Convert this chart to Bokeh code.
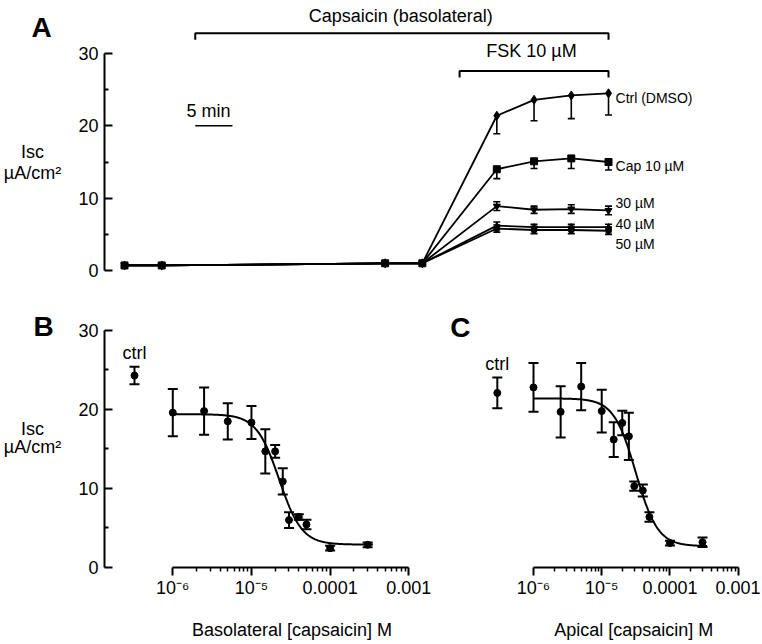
import numpy as np
from bokeh.plotting import figure
from bokeh.layouts import column, row
from bokeh.models import (ColumnDataSource, FixedTicker, Whisker, TeeHead, Range1d)
from bokeh.core.properties import value
from bokeh.embed import file_html
from bokeh.resources import INLINE

FONT = "Liberation Sans"

# ---------------- Panel A data (time course, minutes) ----------------
time_min = [0, 5, 35, 40, 50, 55, 60, 65]
ctrl_isc = [0.7, 0.7, 1.0, 1.0, 21.4, 23.6, 24.2, 24.5]
ctrl_err = [0, 0, 0, 0, 2.5, 2.9, 3.2, 3.0]
cap10_isc = [0.7, 0.7, 1.0, 1.0, 14.0, 15.1, 15.5, 15.0]
cap10_err = [0, 0, 0, 0, 1.3, 1.0, 1.4, 1.1]
cap30_isc = [0.7, 0.7, 1.0, 1.0, 8.9, 8.4, 8.5, 8.3]
cap30_err = [0, 0, 0, 0, 0.6, 0.5, 0.6, 0.6]
cap40_isc = [0.7, 0.7, 1.0, 1.0, 6.2, 6.0, 6.0, 6.0]
cap40_err = [0, 0, 0, 0, 0.5, 0.4, 0.4, 0.4]
cap50_isc = [0.7, 0.7, 1.0, 1.0, 5.8, 5.6, 5.6, 5.5]
cap50_err = [0, 0, 0, 0, 0.5, 0.5, 0.5, 0.5]
series_names = ["Ctrl (DMSO)", "Cap 10 µM", "30 µM", "40 µM", "50 µM"]
series_label_y = [23.9, 14.5, 9.3, 6.4, 3.6]
capsaicin_period = (9.5, 65)
fsk_period = (45, 65)
scale_bar_min = 5

# ---------------- Panel B data (basolateral) ----------------
b_conc = [1e-6, 2.5e-6, 5e-6, 1e-5, 1.5e-5, 2e-5, 2.5e-5, 3e-5, 4e-5, 5e-5, 1e-4, 3e-4]
b_isc = [19.6, 19.8, 18.5, 18.35, 14.7, 14.7, 10.9, 6.0, 6.4, 5.45, 2.45, 2.87]
b_err = [3.0, 3.0, 2.3, 2.1, 2.8, 0.8, 1.65, 1.0, 0.35, 0.6, 0.3, 0.3]
b_ctrl_pos = 3.26e-7
b_ctrl_isc = 24.3
b_ctrl_err = 1.1
b_fit = dict(top=19.4, bottom=2.9, ic50=2.25e-5, hill=3.0)

# ---------------- Panel C data (apical) ----------------
c_conc = [1e-6, 2.5e-6, 5e-6, 1e-5, 1.5e-5, 2e-5, 2.5e-5, 3e-5, 4e-5, 5e-5, 1e-4, 3e-4]
c_isc = [22.8, 19.7, 22.9, 19.8, 16.2, 18.3, 16.6, 10.3, 9.75, 6.4, 3.1, 3.2]
c_err = [3.1, 3.25, 3.0, 2.7, 2.2, 1.55, 3.0, 0.6, 0.75, 0.6, 0.3, 0.6]
c_ctrl_pos = 2.95e-7
c_ctrl_isc = 22.1
c_ctrl_err = 1.95
c_fit = dict(top=21.4, bottom=2.7, ic50=3.15e-5, hill=2.7)

fit_range = (1e-6, 3.5e-4)
x_ticks = [1e-6, 1e-5, 1e-4, 1e-3]
x_tick_labels = ["10⁻⁶", "10⁻⁵", "0.0001", "0.001"]
y_ticks = [0, 10, 20, 30]
y_minor = [5, 15, 25]
x_titles = ["Basolateral [capsaicin] M", "Apical [capsaicin] M"]


def hill(x, top, bottom, ic50, hill):
    return bottom + (top - bottom) / (1.0 + (x / ic50) ** hill)


def add_text(p, x, y, text, size="18px", bold=False, align="center"):
    p.text(x=[x], y=[y], text=[text], text_font=value(FONT), text_font_size=size,
           text_font_style="bold" if bold else "normal", text_align=align,
           text_baseline="middle", text_color="black")


def add_errors(p, xs, ys, errs, cap, width, up=True):
    xs2, lo, hi = [], [], []
    for x, y, e in zip(xs, ys, errs):
        if e > 0:
            xs2.append(x)
            lo.append(y - e)
            hi.append(y + e if up else y)
    src = ColumnDataSource(dict(base=xs2, lower=lo, upper=hi))
    p.add_layout(Whisker(source=src, base="base", lower="lower", upper="upper",
                         dimension="height", line_color="black", line_width=width,
                         lower_head=TeeHead(size=cap, line_width=width, line_color="black"),
                         upper_head=TeeHead(size=cap, line_width=width, line_color="black") if up else None))


def style_yaxis(ax):
    ax.bounds = (0, 30)
    ax.ticker = FixedTicker(ticks=y_ticks, minor_ticks=y_minor)
    ax.axis_line_width = 2
    ax.major_tick_line_width = 2
    ax.minor_tick_line_width = 2
    ax.major_tick_in = 8
    ax.major_tick_out = 0
    ax.minor_tick_in = 4
    ax.minor_tick_out = 0
    ax.major_label_standoff = 6
    ax.major_label_text_font = FONT
    ax.major_label_text_font_size = "18px"
    ax.major_label_text_color = "black"
    ax.axis_line_color = "black"
    ax.major_tick_line_color = "black"
    ax.minor_tick_line_color = "black"


def style_xaxis(ax):
    minor = [k * 10.0 ** e for e in (-6, -5, -4) for k in range(2, 10)]
    ax.bounds = (x_ticks[0], x_ticks[-1])
    ax.ticker = FixedTicker(ticks=x_ticks, minor_ticks=minor)
    ax.major_label_overrides = {t: s for t, s in zip(x_ticks, x_tick_labels)}
    ax.axis_line_width = 2
    ax.major_tick_line_width = 2
    ax.minor_tick_line_width = 1.5
    ax.major_tick_in = 0
    ax.major_tick_out = 8
    ax.minor_tick_in = 0
    ax.minor_tick_out = 4
    ax.major_label_standoff = 2
    ax.major_label_text_font = FONT
    ax.major_label_text_font_size = "18px"
    ax.major_label_text_color = "black"
    ax.axis_line_color = "black"
    ax.major_tick_line_color = "black"
    ax.minor_tick_line_color = "black"


def text_panel(width, y_top, height):
    f = figure(width=width, height=height, output_backend="svg", toolbar_location=None,
               x_range=Range1d(0, width), y_range=Range1d(y_top + height, y_top),
               x_axis_location=None, y_axis_location=None,
               min_border_left=0, min_border_right=0, min_border_top=0, min_border_bottom=0)
    f.grid.visible = False
    f.outline_line_color = None
    return f


LEFT_W = 66
ROW1_H = 298
ROW2_H = 314
ROW3_H = 28

# ======================= Row 1: Panel A =======================
lblA = text_panel(LEFT_W, 0, ROW1_H)
add_text(lblA, 41, 27, "A", size="28px", bold=True)
add_text(lblA, 32, 151, "Isc")
add_text(lblA, 32, 172.5, "µA/cm²")

pA = figure(width=760 - LEFT_W, height=ROW1_H, output_backend="svg", toolbar_location=None,
            x_range=Range1d(-2.686, 85.41), y_range=Range1d(-3.87, 37.33),
            x_axis_location=None, min_border_left=104 - LEFT_W, min_border_right=0,
            min_border_top=0, min_border_bottom=0)
pA.grid.visible = False
pA.outline_line_color = None
style_yaxis(pA.yaxis[0])

series = [
    (ctrl_isc, ctrl_err, "diamond", 9, False),
    (cap10_isc, cap10_err, "square", 7, False),
    (cap30_isc, cap30_err, "inverted_triangle", 7, True),
    (cap40_isc, cap40_err, "triangle", 6, True),
    (cap50_isc, cap50_err, "circle", 6, True),
]
for vals, errs, mk, sz, up in series:
    pA.line(time_min, vals, line_color="black", line_width=1.8)
    add_errors(pA, time_min, vals, errs, cap=7, width=1.6, up=up)
    pA.scatter(time_min, vals, marker=mk, size=sz, fill_color="black", line_color="black")

src_lab = ColumnDataSource(dict(x=[time_min[-1]] * len(series_names), y=series_label_y, t=series_names))
pA.text(x="x", y="y", text="t", source=src_lab, x_offset=7, text_font=value(FONT),
        text_font_size="14px", text_baseline="middle", text_align="left", text_color="black")

cs, ce = capsaicin_period
pA.line([cs, cs, ce, ce], [31.9, 32.8, 32.8, 31.9], line_color="black", line_width=2)
fs, fe = fsk_period
pA.line([fs, fs, fe, fe], [26.7, 27.6, 27.6, 26.7], line_color="black", line_width=2)
pA.line([cs, cs + scale_bar_min], [20.0, 20.0], line_color="black", line_width=1.5)

add_text(pA, 37.1, 35.25, "Capsaicin (basolateral)")
add_text(pA, 54.66, 30.28, "FSK 10 µM")
add_text(pA, 11.28, 22.12, "5 min")

# ======================= Row 2: Panels B and C =======================
lblB = text_panel(LEFT_W, ROW1_H, ROW2_H)
add_text(lblB, 43, 331, "B", size="28px", bold=True)
add_text(lblB, 32, 450.5, "Isc")
add_text(lblB, 32, 471, "µA/cm²")

bottom_border = ROW1_H + ROW2_H - 567

pB = figure(width=440 - LEFT_W, height=ROW2_H, output_backend="svg", toolbar_location=None,
            x_axis_type="log", x_range=Range1d(10 ** -6.868, 10 ** -2.597),
            y_range=Range1d(0, 34.05), min_border_left=104 - LEFT_W, min_border_right=0,
            min_border_top=0, min_border_bottom=bottom_border)
pB.grid.visible = False
pB.outline_line_color = None
style_yaxis(pB.yaxis[0])
style_xaxis(pB.xaxis[0])

xf = np.logspace(np.log10(fit_range[0]), np.log10(fit_range[1]), 300)
pB.line(xf, hill(xf, **b_fit), line_color="black", line_width=2)
add_errors(pB, b_conc, b_isc, b_err, cap=10, width=2)
pB.scatter(b_conc, b_isc, marker="circle", size=7, fill_color="black", line_color="black")
add_errors(pB, [b_ctrl_pos], [b_ctrl_isc], [b_ctrl_err], cap=10, width=2)
pB.scatter([b_ctrl_pos], [b_ctrl_isc], marker="circle", size=7, fill_color="black", line_color="black")
add_text(pB, b_ctrl_pos, 27.09, "ctrl")

pC = figure(width=320, height=ROW2_H, output_backend="svg", toolbar_location=None,
            x_axis_type="log", y_axis_location=None,
            x_range=Range1d(10 ** -7.363, 10 ** -2.673), y_range=Range1d(0, 34.05),
            min_border_left=0, min_border_right=0, min_border_top=0,
            min_border_bottom=bottom_border)
pC.grid.visible = False
pC.outline_line_color = None
style_xaxis(pC.xaxis[0])

pC.line(xf, hill(xf, **c_fit), line_color="black", line_width=2)
add_errors(pC, c_conc, c_isc, c_err, cap=10, width=2)
pC.scatter(c_conc, c_isc, marker="circle", size=7, fill_color="black", line_color="black")
add_errors(pC, [c_ctrl_pos], [c_ctrl_isc], [c_ctrl_err], cap=10, width=2)
pC.scatter([c_ctrl_pos], [c_ctrl_isc], marker="circle", size=7, fill_color="black", line_color="black")
add_text(pC, 8.5e-8, 30.38, "C", size="28px", bold=True)
add_text(pC, c_ctrl_pos, 25.7, "ctrl")

# ======================= Row 3: x-axis titles =======================
titles = text_panel(760, ROW1_H + ROW2_H, ROW3_H)
add_text(titles, 291.5, 629, x_titles[0])
add_text(titles, 633.3, 629, x_titles[1])

layout = column(row(lblA, pA, spacing=0), row(lblB, pB, pC, spacing=0), titles, spacing=0)
open("out.html", "w").write(file_html(layout, INLINE))
